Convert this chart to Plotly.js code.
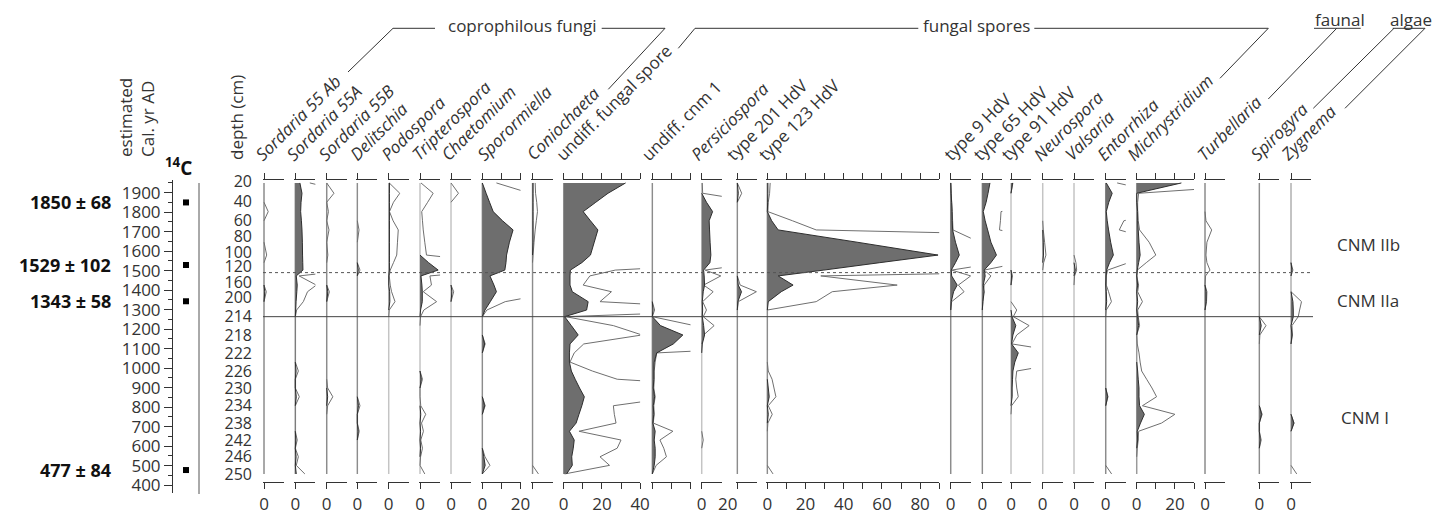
<!DOCTYPE html>
<html>
<head>
<meta charset="utf-8">
<script src="https://cdn.plot.ly/plotly-3.0.1.min.js"></script>
<style>
  html, body { margin: 0; padding: 0; background: #fff; }
  #chart { width: 1434px; height: 516px; }
</style>
</head>
<body>
<div id="chart"></div>
<script>
// ---------- core data ----------
// Sample ages (cal yr AD) from the age-depth model, top of core to bottom.
// First 15: 20-208 cm, then 214-250 cm every 2 cm.
const sampleAge = [1950, 1897, 1851, 1803, 1756, 1709, 1646, 1580, 1541, 1503, 1473, 1426, 1392, 1341, 1298,
  1264, 1218, 1170, 1124, 1078, 1031, 985, 943, 898, 853, 807, 763, 718, 676, 631, 589, 545, 501, 457];

// Depth scale (cm) and the age at which each depth sits
const depthLabel = [20, 40, 60, 80, 100, 120, 160, 200, 214, 218, 222, 226, 230, 234, 238, 242, 246, 250];
const depthLabelAge = [1956, 1854, 1760, 1674, 1596, 1520, 1442, 1365, 1264, 1170, 1078, 985, 898, 807, 718, 631, 546, 457];

// Radiocarbon dates (cal yr AD)
const radiocarbonAge = [1850, 1529, 1343, 477];
const radiocarbonError = [68, 102, 58, 84];

// Zone boundaries (cal yr AD): CNM IIb / IIa, CNM IIa / I
const zoneBoundaryAge = [1490, 1264];
const zoneName = ['CNM IIb', 'CNM IIa', 'CNM I'];

// Percentages (silhouette) and x10 exaggeration curves per taxon
const sordaria55AbPct = [0,0,0,0,0,0,0,0,0,0,0,0,0.4,0,0, 0,0,0,0,0,0,0,0,0,0,0,0,0,0,0,0,0,0,0];
const sordaria55AbExag = [0,0,0,2.2,0,0,0,1.4,0,0,0,0,1.2,0,0, 0,0,0,0,0,0,0,0,0,0,0,0,0,0,0,0,0,0,0];
const sordaria55APct = [2.4,3.5,3.0,2.8,3.2,3.5,3.7,3.8,3.9,4.0,0.5,1.0,0.8,0.4,0.2, 0,0,0,0,0,0,0.4,0,0,0.5,0,0,0,0,0.3,0,0.4,0,0.5];
const sordaria55AExag = [7.6,30,30,30,30,30,30,30,30,30,2.0,11,6.4,4.2,0.7, 0,0,0,0,0,0,1.6,0,0,2.1,0,0,0,0,1.0,0,1.6,0.5,5.0];
const sordaria55BPct = [0,0,0,0,0,0,0,0,0,0,0,0,0.6,0,0, 0,0,0,0,0,0,0,0,0,0.5,0,0,0,0,0,0,0,0,0];
const sordaria55BExag = [0,3.8,0,0.9,0,1.2,0,0.6,0,0,0,0,1.4,0,0, 0,0,0,0,0,0,0,0,0.5,3.2,0.5,0,0,0,0,0,0,0,0];
const delitschiaPct = [0,0,0,0,0,0,0,0,0,0.5,0,0,0,0,0, 0,0,0,0,0,0,0,0,0,0,0.6,0,0,0.5,0,0,0,0,0];
const delitschiaExag = [0,0,0,0,0,0.9,0,0,0,1.4,0,0,0,0,0, 0,0,0,0,0,0,0,0,0,0,1.4,0,0,1.0,0,0,0,0,0];
const podosporaPct = [0.4,0.4,0.4,0.4,0.4,0.4,0.4,0.4,0.4,0.4,0,0,0.5,0.6,0, 0,0,0,0,0,0,0,0,0,0,0,0,0,0,0,0,0,0,0];
const podosporaExag = [0.3,5.8,2.5,0.4,2.3,5.0,4.6,4.2,2.5,0.8,0.3,0.8,1.5,3.3,0.3, 0,0,0,0,0,0,0,0,0,0,0,0,0,0,0,0,0,0,0];
const tripterosporaPct = [0,0,0,0,0,0,0,0,4.5,9.5,0.5,1.0,1.2,1.2,0.3, 0,0,0,0,0,0,0,0.7,0,0,0,0.4,0,0.3,0,0.3,0,0,0];
const tripterosporaExag = [0.5,6.9,4,0.9,1.3,1.7,2.5,3.4,40,40,5.2,6.0,1.7,8.7,2.0, 0.3,0,0,0,0,0,0,1.3,0,0,0.4,3.0,0.8,1.8,0.4,1.3,0.3,0,2.5];
const chaetomiumPct = [0,0,0,0,0,0,0,0,0,0,0,0,0.5,0,0, 0,0,0,0,0,0,0,0,0,0,0,0,0,0,0,0,0,0,0];
const chaetomiumExag = [0,3.9,0,0,0,0,0,0,0,0,0,0,1.4,0,0, 0,0,0,0,0,0,0,0,0,0,0,0,0,0,0,0,0,0,0];
const sporormiellaPct = [0,2.0,3.8,5.7,10.6,16.1,14.2,12.7,12.4,11.8,4.0,6.1,7.4,4.2,1.4, 0,0,0,1.2,0,0,0,0,0,0,1.2,0,0,0,0,0,0.8,1.5,0];
const sporormiellaExag = [7.4,25,40,40,40,40,40,40,40,40,40,40,40,12,2.4, 0,0,0,1.5,0,0,0,0,0,0,1.5,0,0,0,0,0,1.4,4.0,0];
const coniochaetaPct = [0.3,0.3,0.3,0.3,0.3,0.3,0.3,0,0,0,0,0,0,0,0, 0,0,0,0,0,0,0,0,0,0,0,0,0,0,0,0,0,0,0];
const coniochaetaExag = [1.4,1.6,2.2,2.6,2.0,1.4,0.8,0.3,0,0,0,0,0,0,0, 0,0,0,0,0,0,0,0,0,0,0,0,0,0,0,0,0,0,3.1];
const undiffFungalPct = [32.4,23.2,16.8,10.2,14.0,17.9,16.0,14.0,9.5,3.5,3.3,3.3,4.5,12.8,12.0, 0.5,4,7.6,3.3,3.0,3.0,4.0,6.0,8.3,10.8,9.5,8.0,6.5,3.0,5.5,5.0,4.2,4.5,1.5];
const undiffFungalExag = [100,100,100,100,100,100,100,100,100,27,13.7,10.2,25,19,100, 1,26,41,10.5,5.5,3.3,15,28,100,60,26,26.5,27.4,8,30,28,19,24,0.5];
const undiffCnm1Pct = [0,0,0,0,0,0,0,0,0,0,0,0,0,0,0.4, 0,4.3,16,11,2.3,1.0,0.8,0.8,0.5,1.2,0.5,0.8,0.3,1.5,1.0,1.5,1.5,1.0,0];
const undiffCnm1Exag = [0,0,0,0,0,0,0,0,0,0,0,0,0,0,1.2, 0,22,100,100,2.3,1.5,1.0,1.0,0.8,1.5,0.8,1.0,0.5,10.8,4,6,7.4,2,0];
const persiciosporaPct = [0,0,2.5,5.7,3.9,4.1,4.4,4.8,4.3,1.0,1.3,1.5,0.8,0.3,0.5, 0.3,1.0,1.5,0.3,0,0,0,0,0,0,0,0,0,0,0,0,0,0,0];
const persiciosporaExag = [0.3,0.5,30,30,30,30,30,30,30,1.8,10,1.0,6.0,0.5,2.5, 0.8,6.5,1.0,0,0,0,0,0,0,0,0,0,0,0,0.8,0,0,0,0];
const type201Pct = [0,0.5,0,0,0,0,0,0,0,0,0,0.5,2.2,0.3,0, 0,0,0,0,0,0,0,0,0,0,0,0,0,0,0,0,0,0,0];
const type201Exag = [0,2.3,0,0,0,0,0,0,0,0,0,1.5,10,0.5,0, 0,0,0,0,0,0,0,0,0,0,0,0,0,0,0,0,0,0,0];
const type123Pct = [0.3,0.3,0.2,0,2.3,5.7,47,89.4,58.9,29.6,5.7,13.5,7.3,0.5,0, 0,0,0,0,0,0,0,0,0.5,1.0,0,0.5,0,0,0,0,0,0,0];
const type123Exag = [1.5,1.2,0.5,0.3,13.2,25.6,320,400,400,200,28,68,34,25.6,0, 0,0,0,0,0,0,0.5,2.5,3.5,4.5,0.5,2.6,0.3,0,0,0,0,0,3.0];
const type9Pct = [0,0.2,0.5,0.7,0.8,1.0,2.5,4.5,2.5,0.3,0.5,3.4,1.5,0.3,0, 0,0,0,0,0,0,0,0,0,0,0,0,0,0,0,0,0,0,0];
const type9Exag = [0,0.3,0.5,0.8,1.0,1.2,15,30,25,0.5,10.5,4,7,0.5,0, 0,0,0,0,0,0,0,0,0,0,0,0,0,0,0,0,0,0,0];
const type65Pct = [4.0,3.0,2.0,0.5,1.5,2.8,4.5,7.4,4.5,1.0,1.5,0.5,1.0,0.3,0, 0,0,0,0,0,0,0,0,0,0,0,0,0,0,0,0,0,0,0];
const type65Exag = [40,40,40,9.8,9.5,9.0,40,40,20,1.0,4.5,1.0,0.5,0.3,0, 0,0,0,0,0,0,0,0,0,0,0,0,0,0,0,0,0,0,0];
const type91Pct = [0.8,0,0,0,0,0,0,0,0,0,0.3,0,0,0,0, 0.5,2.5,1.0,0.3,3.8,2.0,1.0,0.8,0.6,0.6,0,0,0,0,0,0,0,0,0];
const type91Exag = [1.0,0,0,0,0,0,0,0,0,0,0.8,0,0,0,3.0, 1.2,9.5,3.0,0.5,30,30,3.0,2.5,3.0,3.8,0.3,0,0,0,0,0,0,0,0];
const neurosporaPct = [0,0,0,0,0,0,0.3,0.4,0,0,0,0,0,0,0, 0,0,0,0,0,0,0,0,0,0,0,0,0,0,0,0,0,0,0];
const neurosporaExag = [0,0,0,0,0,0.3,1.0,1.7,0.5,0,0,0,0,0,0, 0,0,0,0,0,0,0,0,0,0,0,0,0,0,0,0,0,0,0];
const valsariaPct = [0,0,0,0,0,0,0,0,0,0.7,0,0,0,0,0, 0,0,0,0,0,0,0,0,0,0,0,0,0,0,0,0,0,0,0];
const valsariaExag = [0,0,0,0,0,0,0,0,1.0,1.4,0.3,0,0,0,0, 0,0,0,0,0,0,0,0,0,0,0,0,0,0,0,0,0,0,0];
const entorrhizaPct = [0.3,3.4,1.6,0.3,0.8,1.5,2.6,4.0,2.0,0.5,0.2,0,0.3,0.5,0, 0,0,0,0,0,0,0,0,0,1.0,0,0,0,0,0,0,0,0,0];
const entorrhizaExag = [6,30,30,30,9.5,7.1,30,30,12,1.0,0.3,0.3,1.5,3.0,0.3, 0,0,0,0,0,0,0,0,0,1.2,0,0,0,0,0,0,0,0,3.1];
const michrystridiumPct = [23.4,0,0,0.5,0.5,0.8,1.2,1.8,1.0,0.3,0,0.5,0,0.5,0, 0.5,1.0,0,0,0,0,0.5,0.8,1.2,1.2,1.5,4.0,2.0,0.3,0.5,0,0,0,0];
const michrystridiumExag = [80,1.0,0.5,0.5,0.8,1.5,6.5,10,5,0.3,0,1.0,0.5,3.0,0.5, 0.8,1.5,0,0.3,1.2,1.8,2.6,5.2,8,10.4,3.0,20,13,1.0,0.8,0.3,0,0,0];
const turbellariaPct = [0,0,0,0,0,0,0,0,0,0,0,0,0.6,0.6,0, 0,0,0,0,0,0,0,0,0,0,0,0,0,0,0,0,0,0,0];
const turbellariaExag = [0,0,0,0,0.5,3.5,1.0,0.5,1.0,2.6,0.3,0,1.0,0.8,0, 0,0,0,0,0,0,0,0,0,0,0,0,0,0,0,0,0,0,0];
const spirogyraPct = [0,0,0,0,0,0,0,0,0,0,0,0,0,0,0, 0,1.0,0,0,0,0,0,0,0,0,0,1.2,0,0,0.5,0,0,0,0];
const spirogyraExag = [0,0,0,0,0,0,0,0,0,0,0,0,0,0,0, 0,3.5,0.3,0,0,0,0,0,0,0,0,1.5,0,0,1.0,0,0,0,0];
const zygnemaPct = [0,0,0,0,0,0,0,0,0,0.5,0,0,0,1.0,1.2, 1.2,0,0.5,0,0,0,0,0,0,0,0,0,1.5,0,0,0,0,0,0];
const zygnemaExag = [0,0,0,0,0,0,0,0,0,1.0,0,0,0,5.5,4.5, 3.8,0.5,0.8,0,0,0,0,0,0,0,0,0,1.6,0,0,0,0,0,3.0];

// ---------- geometry helpers ----------
const W = 1434, H = 516;
const FONT = '"Open Sans", "Noto Sans", "DejaVu Sans", sans-serif';
const FS = 17;
const INK = '#333';
const px = v => v / W;
const py = v => 1 - v / H;
const PX_PER_UNIT = 1.91;            // horizontal scale shared by every panel
const PLOT_TOP = 180, PLOT_BOTTOM = 482;
const AGE_AT_TOP_PX = 192.7, AGE_PX_PER_YR = 0.1949;
const ageAt = p => 1900 - (p - AGE_AT_TOP_PX) / AGE_PX_PER_YR;

// panel layout: name, series, zero-line position, scale extent, tick labels
const panels = [
  {name: 'Sordaria 55 Ab', it: true, pct: sordaria55AbPct, ex: sordaria55AbExag, x0: 264, max: 10.5, lab: ['0'], base: '#8c8c8c', lx: 262},
  {name: 'Sordaria 55A', it: true, pct: sordaria55APct, ex: sordaria55AExag, x0: 295.3, max: 10.5, lab: ['0'], base: '#7c7c7c', lx: 293},
  {name: 'Sordaria 55B', it: true, pct: sordaria55BPct, ex: sordaria55BExag, x0: 326.7, max: 10.5, lab: ['0'], base: '#8c8c8c', lx: 325},
  {name: 'Delitschia', it: true, pct: delitschiaPct, ex: delitschiaExag, x0: 357.3, max: 10.5, lab: ['0'], base: '#8c8c8c', lx: 356},
  {name: 'Podospora', it: true, pct: podosporaPct, ex: podosporaExag, x0: 388.7, max: 10.5, lab: ['0'], base: '#c4c4c4', lx: 387},
  {name: 'Tripterospora', it: true, pct: tripterosporaPct, ex: tripterosporaExag, x0: 420, max: 10.5, lab: ['0'], base: '#c4c4c4', lx: 418},
  {name: 'Chaetomium', it: true, pct: chaetomiumPct, ex: chaetomiumExag, x0: 451, max: 10.5, lab: ['0'], base: '#c4c4c4', lx: 448},
  {name: 'Sporormiella', it: true, pct: sporormiellaPct, ex: sporormiellaExag, x0: 482.3, max: 20, tv: [0, 10, 20], lab: ['0', '', '20'], base: '#8c8c8c', lx: 484},
  {name: 'Coniochaeta', it: true, pct: coniochaetaPct, ex: coniochaetaExag, x0: 532.5, max: 10.5, lab: [''], base: '#8c8c8c', lx: 533},
  {name: 'undiff. fungal spore', it: false, pct: undiffFungalPct, ex: undiffFungalExag, x0: 563.7, max: 40, tv: [0, 10, 20, 30, 40], lab: ['0', '', '20', '', '40'], base: '#9a9a9a', lx: 562},
  {name: 'undiff. cnm 1', it: false, pct: undiffCnm1Pct, ex: undiffCnm1Exag, x0: 652.3, max: 20, tv: [0, 10, 20], lab: ['', '', ''], base: '#8c8c8c', lx: 648},
  {name: 'Persiciospora', it: true, pct: persiciosporaPct, ex: persiciosporaExag, x0: 701.7, max: 10.5, lab: ['0'], base: '#c4c4c4', lx: 697},
  {name: 'type 201 HdV', it: false, pct: type201Pct, ex: type201Exag, x0: 737.3, max: 10.5, lab: [''], base: '#8c8c8c', lx: 733},
  {name: 'type 123 HdV', it: false, pct: type123Pct, ex: type123Exag, x0: 767.3, max: 90, tv: [0,10,20,30,40,50,60,70,80,90], lab: ['0','','20','','40','','60','','80',''], base: '#8c8c8c', lx: 765},
  {name: 'type 9 HdV', it: false, pct: type9Pct, ex: type9Exag, x0: 950.7, max: 10.5, lab: ['0'], base: '#8c8c8c', lx: 950},
  {name: 'type 65 HdV', it: false, pct: type65Pct, ex: type65Exag, x0: 982.3, max: 10.5, lab: ['0'], base: '#8c8c8c', lx: 980},
  {name: 'type 91 HdV', it: false, pct: type91Pct, ex: type91Exag, x0: 1011, max: 10.5, lab: ['0'], base: '#c4c4c4', lx: 1008},
  {name: 'Neurospora', it: true, pct: neurosporaPct, ex: neurosporaExag, x0: 1042.7, max: 10.5, lab: ['0'], base: '#c4c4c4', lx: 1040},
  {name: 'Valsaria', it: true, pct: valsariaPct, ex: valsariaExag, x0: 1074, max: 10.5, lab: ['0'], base: '#c4c4c4', lx: 1071},
  {name: 'Entorrhiza', it: true, pct: entorrhizaPct, ex: entorrhizaExag, x0: 1105.7, max: 10.5, lab: ['0'], base: '#8c8c8c', lx: 1103},
  {name: 'Michrystridium', it: true, pct: michrystridiumPct, ex: michrystridiumExag, x0: 1136.7, max: 30, tv: [0, 10, 20, 30], lab: ['0', '', '20', ''], base: '#9a9a9a', lx: 1133},
  {name: 'Turbellaria', it: true, pct: turbellariaPct, ex: turbellariaExag, x0: 1205, max: 10.5, lab: ['0'], base: '#8c8c8c', lx: 1203},
  {name: 'Spirogyra', it: true, pct: spirogyraPct, ex: spirogyraExag, x0: 1259.3, max: 10.5, lab: ['0'], base: '#8c8c8c', lx: 1257},
  {name: 'Zygnema', it: true, pct: zygnemaPct, ex: zygnemaExag, x0: 1291, max: 10.5, lab: ['0'], base: '#b0b0b0', lx: 1287}
];

// keep zeros that bound a non-zero run, blank out the rest so empty stretches are not drawn
function trimZeros(arr) {
  return arr.map((v, i) => {
    if (v !== 0) return v;
    const prev = i > 0 ? arr[i - 1] : 0;
    const next = i < arr.length - 1 ? arr[i + 1] : 0;
    return (prev === 0 && next === 0) ? null : 0;
  });
}

// text placed in pixel coordinates, always centred on the given point unless told otherwise
function label(text, x, y, opts) {
  return Object.assign({
    xref: 'paper', yref: 'paper', x: px(x), y: py(y), showarrow: false,
    xanchor: 'center', yanchor: 'middle', text: text,
    font: {family: FONT, size: FS, color: INK}
  }, opts || {});
}

const traces = [];
const layout = {
  width: W, height: H,
  margin: {l: 0, r: 0, t: 0, b: 0},
  paper_bgcolor: '#fff', plot_bgcolor: 'rgba(0,0,0,0)',
  showlegend: false, hovermode: false,
  font: {family: FONT, size: FS, color: INK},
  annotations: [], shapes: []
};

const LEFT_PAD = 0.6;
panels.forEach((p, i) => {
  const ax = i === 0 ? 'x' : 'x' + (i + 1);
  const axKey = i === 0 ? 'xaxis' : 'xaxis' + (i + 1);
  layout[axKey] = {
    domain: [px(p.x0 - LEFT_PAD * PX_PER_UNIT), px(p.x0 + p.max * PX_PER_UNIT)],
    range: [-LEFT_PAD, p.max],
    anchor: 'y',
    showline: true, linecolor: INK, linewidth: 1, mirror: 'ticks',
    ticks: 'outside', ticklen: 6, tickwidth: 1, tickcolor: INK,
    tickmode: 'array', tickvals: p.tv || [0], ticktext: p.lab,
    ticklabelstandoff: 1,
    tickfont: {family: FONT, size: FS, color: INK},
    showgrid: false, zeroline: false, fixedrange: true
  };
  // zero line of the panel
  traces.push({
    x: [0, 0], y: [sampleAge[0], sampleAge[sampleAge.length - 1]],
    xaxis: ax, yaxis: 'y', mode: 'lines',
    line: {color: p.base, width: 1.5}, hoverinfo: 'skip'
  });
  // exaggeration curve
  traces.push({
    x: trimZeros(p.ex), y: sampleAge,
    xaxis: ax, yaxis: 'y', mode: 'lines', connectgaps: false,
    line: {color: '#6f6f6f', width: 1, simplify: false}, hoverinfo: 'skip'
  });
  // silhouette
  traces.push({
    x: trimZeros(p.pct), y: sampleAge,
    xaxis: ax, yaxis: 'y', mode: 'lines', connectgaps: false,
    fill: 'tozerox', fillcolor: '#6e6e6e',
    line: {color: '#2e2e2e', width: 1, simplify: false}, hoverinfo: 'skip'
  });
  // rotated taxon name, its baseline starting just left of the zero line
  layout.annotations.push(label(p.it ? '<i>' + p.name + '</i>' : p.name, p.lx - 14.3, 168,
    {xanchor: 'left', yanchor: 'bottom', textangle: -45}));
});

// depth scale (main y axis, labels only)
layout.yaxis = {
  domain: [py(PLOT_BOTTOM), py(PLOT_TOP)],
  range: [ageAt(PLOT_BOTTOM), ageAt(PLOT_TOP)],
  anchor: 'free', position: px(252), side: 'left',
  showline: false, ticks: '', showgrid: false, zeroline: false,
  tickmode: 'array', tickvals: depthLabelAge, ticktext: depthLabel.map(String),
  tickfont: {family: FONT, size: 16, color: INK}, fixedrange: true
};

// calendar age axis
layout.yaxis2 = {
  domain: [py(493), py(PLOT_TOP)],
  range: [ageAt(493), ageAt(PLOT_TOP)],
  anchor: 'free', position: px(172), side: 'left',
  showline: true, linecolor: INK, linewidth: 1,
  ticks: 'outside', ticklen: 8, tickcolor: INK,
  tickmode: 'linear', tick0: 400, dtick: 100,
  minor: {dtick: 50, ticklen: 4, ticks: 'outside', tickcolor: INK},
  tickfont: {family: FONT, size: FS, color: INK},
  showgrid: false, zeroline: false, fixedrange: true
};

// column holding the radiocarbon markers
layout.xaxis25 = {domain: [px(180), px(192)], range: [0, 1], anchor: 'y2', visible: false, fixedrange: true};
traces.push({
  x: radiocarbonAge.map(() => 0.5), y: radiocarbonAge,
  xaxis: 'x25', yaxis: 'y2', mode: 'markers',
  marker: {symbol: 'square', size: 6, color: '#000'}, hoverinfo: 'skip'
});
radiocarbonAge.forEach((a, i) => {
  layout.annotations.push({
    xref: 'paper', yref: 'y2', x: px(113), y: a, xanchor: 'right', yanchor: 'middle',
    showarrow: false, text: '<b>' + a + ' ± ' + radiocarbonError[i] + '</b>',
    font: {family: FONT, size: 18, color: '#111'}
  });
});

// zone boundaries
layout.shapes.push(
  {type: 'line', xref: 'paper', yref: 'y', x0: px(263), x1: px(1313), y0: zoneBoundaryAge[0], y1: zoneBoundaryAge[0],
   line: {color: '#555', width: 1, dash: 'dot'}},
  {type: 'line', xref: 'paper', yref: 'y', x0: px(263), x1: px(1313), y0: zoneBoundaryAge[1], y1: zoneBoundaryAge[1],
   line: {color: '#444', width: 1}}
);
layout.annotations.push(
  label(zoneName[0], 1335, 245, {xanchor: 'left'}),
  label(zoneName[1], 1335, 300, {xanchor: 'left'}),
  label(zoneName[2], 1339, 417, {xanchor: 'left'})
);

// vertical rule beside the dates
layout.shapes.push({type: 'line', xref: 'paper', yref: 'paper', x0: px(199), x1: px(199), y0: py(183), y1: py(494),
  line: {color: '#555', width: 1}});

// group brackets
const seg = (x0, y0, x1, y1) => ({type: 'line', xref: 'paper', yref: 'paper',
  x0: px(x0), y0: py(y0), x1: px(x1), y1: py(y1), line: {color: INK, width: 1}});
layout.shapes.push(
  seg(348, 72, 393, 28.3), seg(393, 28.3, 435, 28.3),
  seg(601.7, 28.3, 665, 28.3), seg(665, 28.3, 608.3, 89.3),
  seg(678.3, 48.3, 695, 28.3), seg(695, 28.3, 918.3, 28.3),
  seg(1034.3, 28.3, 1268.3, 28.3), seg(1268.3, 28.3, 1220, 78.3),
  seg(1314, 28.3, 1360.7, 28.3), seg(1336.7, 28.3, 1268.3, 99),
  seg(1392.7, 28.3, 1425, 28.3), seg(1394, 28.3, 1313.3, 108.3), seg(1425, 28.3, 1345, 108.3)
);
layout.annotations.push(
  label('coprophilous fungi', 522, 26), label('fungal spores', 976, 26),
  label('faunal', 1340, 20), label('algae', 1411, 20)
);

// axis titles and extra labels
layout.annotations.push(
  label('estimated<br>Cal. yr AD', 137, 118, {textangle: -90, align: 'left'}),
  label('depth (cm)', 237, 117, {textangle: -90}),
  label('<b><sup>14</sup>C</b>', 178, 167, {font: {family: FONT, size: 19, color: '#111'}}),
  label('20', 727, 503)
);

Plotly.newPlot('chart', traces, layout, {staticPlot: true, displayModeBar: false});
</script>
</body>
</html>
